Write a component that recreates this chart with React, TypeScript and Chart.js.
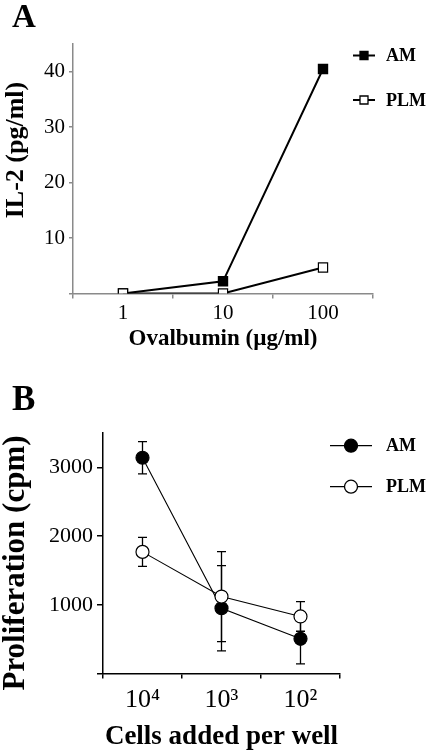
import React, { useEffect, useRef } from 'react';
import { Chart, registerables } from 'chart.js';

Chart.register(...registerables);

const FONT = "'Liberation Serif', 'Times New Roman', Times, serif";

// ---- Panel A data ----
const doseLabels = ['1', '10', '100'];
const il2AM = [0, 2.2, 40.5];
const il2PLM = [0, 0, 4.7];
const il2Ticks = [0, 10, 20, 30, 40];

// ---- Panel B data ----
const cellLabels = ['10⁴', '10³', '10²'];
const profAM = [3140, 950, 505];
const profAMErr = [235, 620, 365];
const profPLM = [1770, 1120, 830];
const profPLMErr = [210, 655, 215];
const profTicks = [0, 1000, 2000, 3000];

const seriesNames = ['AM', 'PLM'];

type Overlay = {
  letter: { text: string; x: number; y: number; size: number };
  yTitle: { text: string; x: number; y: number; size: number };
  legend: {
    marker: 'rect' | 'circle';
    size: number;
    x1: number;
    x2: number;
    mx: number;
    tx: number;
    ys: number[];
    lineWidth: number;
    fontSize: number;
  };
  errors?: (number[] | null)[];
};

function overlayPlugin(o: Overlay) {
  return {
    id: 'overlay',
    beforeDatasetsDraw(chart: any) {
      if (!o.errors) return;
      const ctx = chart.ctx;
      const xs = chart.scales.x;
      const ys = chart.scales.y;
      ctx.save();
      ctx.strokeStyle = '#000';
      ctx.lineWidth = 1.3;
      chart.data.datasets.forEach((ds: any, di: number) => {
        const err = o.errors![di];
        if (!err) return;
        ds.data.forEach((v: number, i: number) => {
          const x = xs.getPixelForValue(i);
          const yt = ys.getPixelForValue(v + err[i]);
          const yb = ys.getPixelForValue(v - err[i]);
          ctx.beginPath();
          ctx.moveTo(x, yt);
          ctx.lineTo(x, yb);
          ctx.moveTo(x - 4.5, yt);
          ctx.lineTo(x + 4.5, yt);
          ctx.moveTo(x - 4.5, yb);
          ctx.lineTo(x + 4.5, yb);
          ctx.stroke();
        });
      });
      ctx.restore();
    },
    afterDraw(chart: any) {
      const ctx = chart.ctx;
      ctx.save();
      ctx.fillStyle = '#000';
      // panel letter
      ctx.font = `bold ${o.letter.size}px ${FONT}`;
      ctx.textAlign = 'left';
      ctx.textBaseline = 'alphabetic';
      ctx.fillText(o.letter.text, o.letter.x, o.letter.y);
      // y title
      ctx.save();
      ctx.translate(o.yTitle.x, o.yTitle.y);
      ctx.rotate(-Math.PI / 2);
      ctx.font = `bold ${o.yTitle.size}px ${FONT}`;
      ctx.textAlign = 'center';
      ctx.textBaseline = 'middle';
      ctx.fillText(o.yTitle.text, 0, 0);
      ctx.restore();
      // legend
      const L = o.legend;
      chart.data.datasets.forEach((ds: any, i: number) => {
        const y = L.ys[i];
        ctx.strokeStyle = '#000';
        ctx.lineWidth = L.lineWidth;
        ctx.beginPath();
        ctx.moveTo(L.x1, y);
        ctx.lineTo(L.x2, y);
        ctx.stroke();
        ctx.fillStyle = ds.pointBackgroundColor;
        ctx.lineWidth = 1.3;
        ctx.beginPath();
        if (L.marker === 'rect') {
          ctx.rect(L.mx - L.size / 2, y - L.size / 2, L.size, L.size);
        } else {
          ctx.arc(L.mx, y, L.size, 0, Math.PI * 2);
        }
        ctx.fill();
        ctx.stroke();
        ctx.fillStyle = '#000';
        ctx.font = `bold ${L.fontSize}px ${FONT}`;
        ctx.textAlign = 'left';
        ctx.textBaseline = 'middle';
        ctx.fillText(ds.label, L.tx, y + 1);
      });
      ctx.restore();
    },
  };
}

function axisCommon(color: string, width: number, tickLength: number) {
  return {
    grid: {
      display: true,
      drawOnChartArea: false,
      drawTicks: true,
      tickLength,
      color,
      lineWidth: width,
    },
    border: { display: true, color, width },
  };
}

function configA(): any {
  const AX = '#8a8a8a';
  const H = 360;
  return {
    type: 'line',
    data: {
      labels: doseLabels,
      datasets: [
        {
          label: seriesNames[0],
          data: il2AM,
          borderColor: '#000',
          borderWidth: 2,
          tension: 0,
          pointStyle: 'rect',
          pointRadius: 6.5,
          pointBackgroundColor: '#000',
          pointBorderColor: '#000',
          pointBorderWidth: 1.2,
          order: 1,
        },
        {
          label: seriesNames[1],
          data: il2PLM,
          borderColor: '#000',
          borderWidth: 2,
          tension: 0,
          pointStyle: 'rect',
          pointRadius: 6.5,
          pointBackgroundColor: '#fff',
          pointBorderColor: '#000',
          pointBorderWidth: 1.2,
          order: 0,
        },
      ],
    },
    options: {
      responsive: false,
      animation: false,
      layout: { padding: { top: 44, right: 55, bottom: 0, left: 0 } },
      plugins: { legend: { display: false }, tooltip: { enabled: false } },
      scales: {
        x: {
          type: 'category',
          offset: true,
          ...axisCommon(AX, 1.5, 5),
          grid: { ...axisCommon(AX, 1.5, 5).grid, offset: true },
          ticks: {
            color: '#000',
            font: { family: FONT, size: 21 },
            padding: 2,
            autoSkip: false,
            maxRotation: 0,
          },
          title: {
            display: true,
            text: 'Ovalbumin (µg/ml)',
            color: '#000',
            font: { family: FONT, size: 23, weight: 'bold', lineHeight: 1.2 },
            padding: { top: 0, bottom: 7 },
          },
          afterFit: (s: any) => {
            s.height = H - 293.5;
          },
        },
        y: {
          type: 'linear',
          min: 0,
          max: 45,
          ...axisCommon(AX, 1.5, 4),
          afterBuildTicks: (s: any) => {
            s.ticks = il2Ticks.map((v) => ({ value: v }));
          },
          ticks: {
            color: '#000',
            font: { family: FONT, size: 21 },
            padding: 4,
            callback: (v: number) => (v === 0 ? '' : String(v)),
          },
          afterFit: (s: any) => {
            s.width = 73;
          },
        },
      },
    },
    plugins: [
      overlayPlugin({
        letter: { text: 'A', x: 12, y: 27, size: 33 },
        yTitle: { text: 'IL-2 (pg/ml)', x: 16, y: 150, size: 26 },
        legend: {
          marker: 'rect',
          size: 8,
          x1: 353,
          x2: 375,
          mx: 364,
          tx: 386,
          ys: [55.5, 100],
          lineWidth: 2,
          fontSize: 18,
        },
      }),
    ],
  };
}

function configB(): any {
  const AX = '#000';
  const H = 374;
  return {
    type: 'line',
    data: {
      labels: cellLabels,
      datasets: [
        {
          label: seriesNames[0],
          data: profAM,
          borderColor: '#000',
          borderWidth: 1.1,
          tension: 0,
          pointStyle: 'circle',
          pointRadius: 6.5,
          pointBackgroundColor: '#000',
          pointBorderColor: '#000',
          pointBorderWidth: 1.2,
          order: 1,
        },
        {
          label: seriesNames[1],
          data: profPLM,
          borderColor: '#000',
          borderWidth: 1.1,
          tension: 0,
          pointStyle: 'circle',
          pointRadius: 6.5,
          pointBackgroundColor: '#fff',
          pointBorderColor: '#000',
          pointBorderWidth: 1.2,
          order: 0,
        },
      ],
    },
    options: {
      responsive: false,
      animation: false,
      layout: { padding: { top: 53, right: 88, bottom: 0, left: 0 } },
      plugins: { legend: { display: false }, tooltip: { enabled: false } },
      scales: {
        x: {
          type: 'category',
          offset: true,
          ...axisCommon(AX, 1.5, 5),
          grid: { ...axisCommon(AX, 1.5, 5).grid, offset: true },
          ticks: {
            color: '#000',
            font: { family: FONT, size: 26 },
            padding: 6,
            autoSkip: false,
            maxRotation: 0,
          },
          title: {
            display: true,
            text: 'Cells added per well',
            color: '#000',
            font: { family: FONT, size: 27, weight: 'bold', lineHeight: 1.2 },
            padding: { top: 0, bottom: 1 },
          },
          afterFit: (s: any) => {
            s.height = H - 293.5;
          },
        },
        y: {
          type: 'linear',
          min: 0,
          max: 3500,
          ...axisCommon(AX, 1.5, 6),
          afterBuildTicks: (s: any) => {
            s.ticks = profTicks.map((v) => ({ value: v }));
          },
          ticks: {
            color: '#000',
            font: { family: FONT, size: 22 },
            padding: 4,
            callback: (v: number) => (v === 0 ? '' : String(v)),
          },
          afterFit: (s: any) => {
            s.width = 103;
          },
        },
      },
    },
    plugins: [
      overlayPlugin({
        letter: { text: 'B', x: 12, y: 30, size: 35 },
        yTitle: { text: 'Proliferation (cpm)', x: 16, y: 183, size: 31 },
        legend: {
          marker: 'circle',
          size: 6.5,
          x1: 330,
          x2: 372,
          mx: 351,
          tx: 386,
          ys: [65.7, 106.7],
          lineWidth: 1.3,
          fontSize: 18,
        },
        errors: [profAMErr, profPLMErr],
      }),
    ],
  };
}

function ChartCanvas({
  make,
  top,
  width,
  height,
}: {
  make: () => any;
  top: number;
  width: number;
  height: number;
}) {
  const ref = useRef<HTMLCanvasElement>(null);
  useEffect(() => {
    const chart = new Chart(ref.current as HTMLCanvasElement, make());
    return () => chart.destroy();
  }, []);
  return (
    <canvas
      ref={ref}
      width={width}
      height={height}
      style={{ position: 'absolute', left: 0, top, width, height }}
    />
  );
}

export default function App() {
  return (
    <div style={{ background: '#fff' }}>
      <ChartCanvas make={configA} top={0} width={428} height={360} />
      <ChartCanvas make={configB} top={380} width={428} height={374} />
    </div>
  );
}
